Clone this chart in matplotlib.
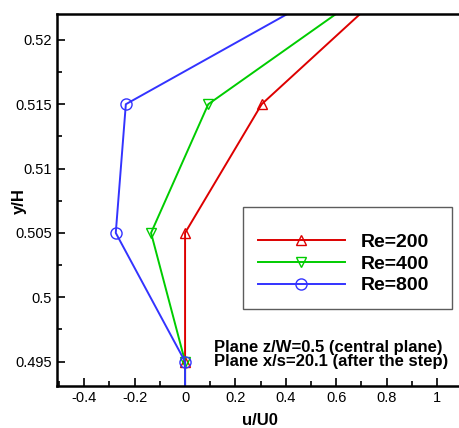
import matplotlib
matplotlib.use("Agg")
import matplotlib.pyplot as plt
from matplotlib.ticker import MultipleLocator

plt.rcParams["font.family"] = ["Liberation Sans", "DejaVu Sans"]

# profile data (y/H vs u/U0)
y_h = [0.485, 0.495, 0.505, 0.515, 0.525]
u_re200 = [0.0, 0.0, 0.0, 0.304, 0.861]
u_re400 = [0.0, 0.0, -0.135, 0.092, 0.815]
u_re800 = [0.0, 0.0, -0.275, -0.235, 0.679]
labels = ["Re=200", "Re=400", "Re=800"]

COLORS = ["#DD0000", "#00CC00", "#3333FF"]
MARKERS = ["^", "v", "o"]

fig = plt.figure(figsize=(4.6, 4.28), dpi=100)
ax = fig.add_axes([0.124, 0.098, 0.881, 0.869])

for u, lab, c, m in zip([u_re200, u_re400, u_re800], labels, COLORS, MARKERS):
    ax.plot(u, y_h, color=c, lw=1.4, marker=m, ms=8 if m == "o" else 7,
            mfc="none", mec=c, mew=1.0, label=lab, clip_on=True)

ax.set_xlim(-0.508, 1.1)
ax.set_ylim(0.4931, 0.522)
ax.xaxis.set_major_locator(MultipleLocator(0.2))
ax.xaxis.set_minor_locator(MultipleLocator(0.1))
ax.yaxis.set_major_locator(MultipleLocator(0.005))
ax.yaxis.set_minor_locator(MultipleLocator(0.0025))
ax.xaxis.set_major_formatter(plt.FuncFormatter(lambda v, p: f"{v:g}"))
ax.yaxis.set_major_formatter(plt.FuncFormatter(lambda v, p: f"{v:g}"))
ax.tick_params(which="both", direction="in", width=1.2, labelsize=10.5)
ax.tick_params(which="major", length=6)
ax.tick_params(which="minor", length=3.5)
for s in ax.spines.values():
    s.set_linewidth(1.8)

ax.set_xlabel("u/U0", fontsize=12, fontweight="bold", labelpad=6)
ax.set_ylabel("y/H", fontsize=12, fontweight="bold")
ax.yaxis.set_label_coords(-0.074, 0.497)

leg = ax.legend(loc="upper left", bbox_to_anchor=(0.459, 0.196, 0.516, 0.285),
                mode="expand", borderaxespad=0,
                prop={"weight": "bold", "size": 14}, frameon=True,
                fancybox=False, edgecolor="#333333", handlelength=4.5,
                borderpad=0.75, labelspacing=0.22, handletextpad=0.8,
                title=" ", title_fontsize=5)
leg.get_frame().set_linewidth(1.0)

ax.text(0.113, 0.49558, "Plane z/W=0.5 (central plane)\nPlane x/s=20.1 (after the step)",
        fontsize=12, fontweight="bold", ha="left", va="center", linespacing=0.9)

plt.savefig("out.png", dpi=100)
